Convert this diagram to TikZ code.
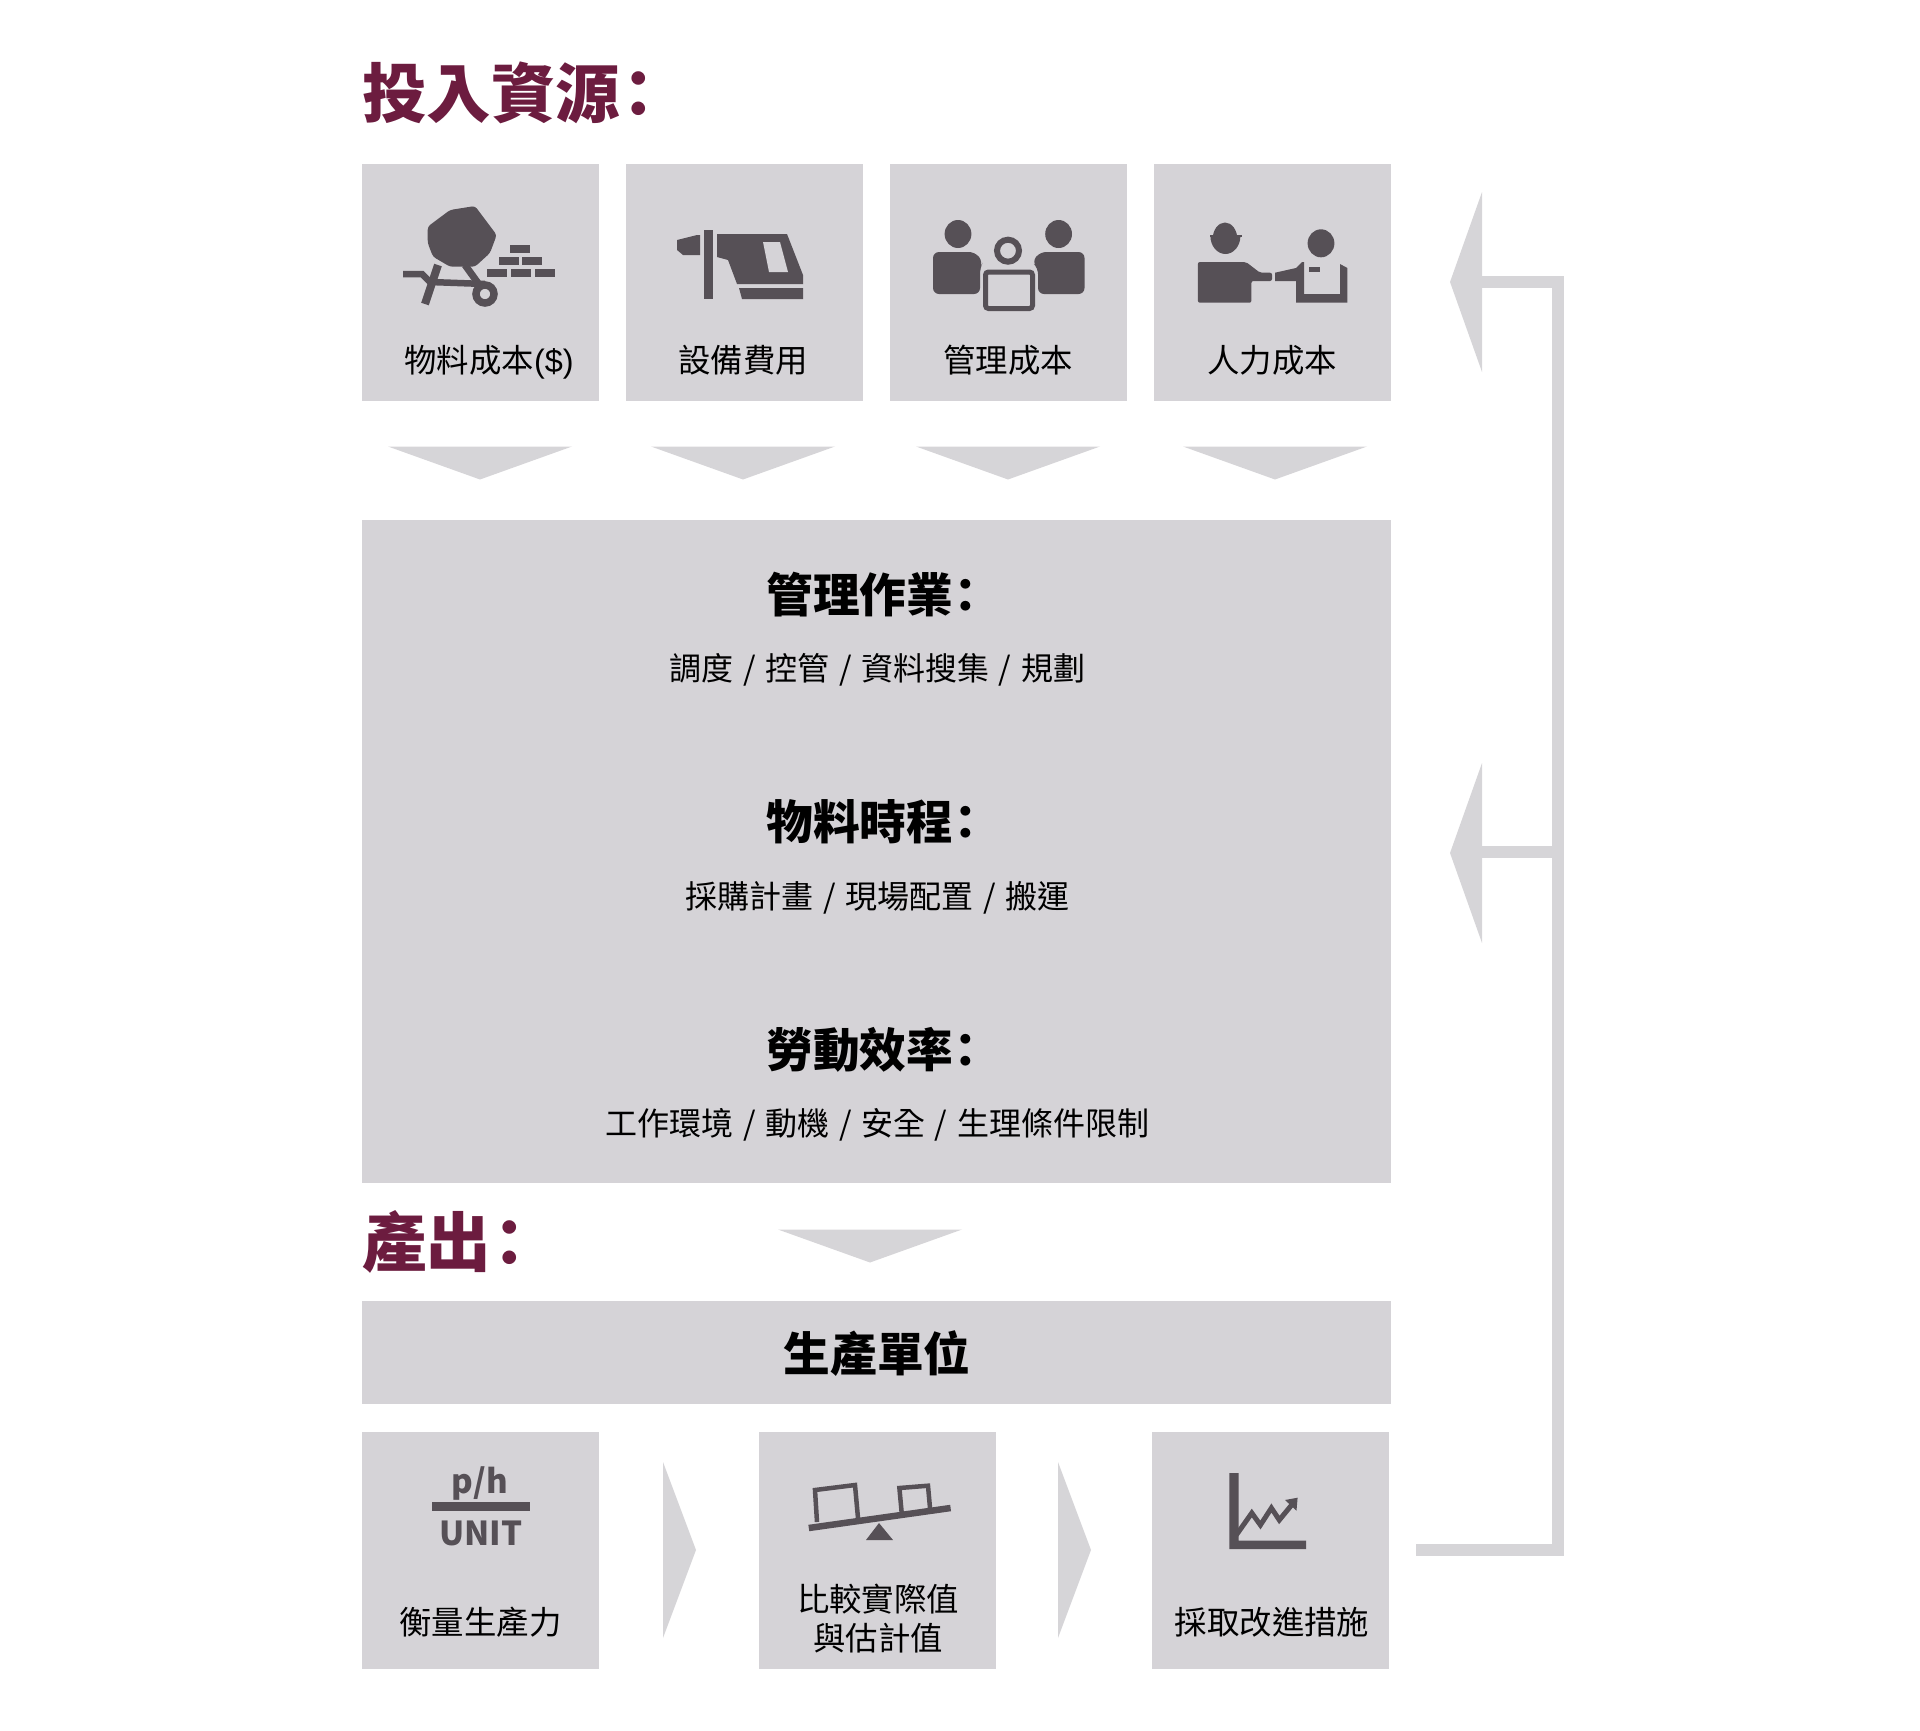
\documentclass[tikz,border=0pt]{standalone}
\usepackage{fontspec}
\setmainfont{Noto Sans CJK TC}
\newfontfamily\latinfont{Liberation Sans}
\usepackage{tikz}
\definecolor{cardgray}{HTML}{D5D3D7}
\definecolor{arrowgray}{HTML}{D6D5D8}
\definecolor{icondark}{HTML}{565056}
\definecolor{headred}{HTML}{6C1C3F}
\newcommand{\sepp}{\hspace{.3em}/\hspace{.3em}}
\newcommand{\clnh}{\hspace{-.22em}：}
\tikzset{
  cardbox/.style={fill=cardgray, inner sep=0pt, minimum width=237pt, minimum height=237pt},
  widebox/.style={fill=cardgray, inner sep=0pt, minimum width=1029pt},
  arrowfill/.style={fill=arrowgray},
  feedback/.style={draw=arrowgray, line width=12pt},
  iconfill/.style={fill=icondark},
  iconline/.style={draw=icondark},
  cardlabel/.style={inner sep=0pt, font=\fontsize{32.4}{39}\selectfont, align=center},
  sublabel/.style={inner sep=0pt, font=\fontsize{32}{39}\selectfont},
  sectionlabel/.style={inner sep=0pt, font=\fontsize{46.7}{55}\selectfont\bfseries},
  headlabel/.style={inner sep=0pt, anchor=west, text=headred, font=\fontsize{64.5}{76}\selectfont\bfseries},
  ratiolabel/.style={inner sep=0pt, text=icondark, font=\fontsize{33}{33}\selectfont\bfseries},
}
\begin{document}
\begin{tikzpicture}[x=1pt, y=-1pt]
\useasboundingbox (0,0) rectangle (1920,1730);
\node[headlabel] (headin) at (362,92.5) {投入資源\clnh};
\node[headlabel] (headout) at (362,1242) {產出\clnh};
\node[cardbox] (matl) at (480.5,282) {};
\node[cardbox] (equip) at (744.5,282) {};
\node[cardbox] (mgmt) at (1008.5,282) {};
\node[cardbox] (labor) at (1272.5,282) {};
\node[widebox, minimum height=663pt] (tasks) at (876.5,851.5) {};
\node[widebox, minimum height=103pt] (unit) at (876.5,1352.5) {};
\node[cardbox] (measure) at (480.5,1550) {};
\node[cardbox] (compare) at (877.5,1550) {};
\node[cardbox] (improve) at (1270,1550) {};
\draw
    (489,362) node[cardlabel] (matltext) {物料成本{\latinfont(\$)}}
    (743,360) node[cardlabel] (equiptext) {設備費用}
    (1008,360) node[cardlabel] (mgmttext) {管理成本}
    (1272,360) node[cardlabel] (labortext) {人力成本}
    (878,595) node[sectionlabel] (tasktext) {管理作業\clnh}
    (877.5,669.5) node[sublabel] (tasksub) {調度\sepp 控管\sepp 資料搜集\sepp 規劃}
    (878,822) node[sectionlabel] (schedtext) {物料時程\clnh}
    (877.5,897.5) node[sublabel] (schedsub) {採購計畫\sepp 現場配置\sepp 搬運}
    (878,1050) node[sectionlabel] (efftext) {勞動效率\clnh}
    (877.5,1124.5) node[sublabel] (effsub) {工作環境\sepp 動機\sepp 安全\sepp 生理條件限制}
    (877,1354) node[sectionlabel] (unittext) {生產單位}
    (480.5,1622) node[cardlabel] (measuretext) {衡量生產力}
    (878,1618.5) node[cardlabel] (comparetext) {比較實際值\\與估計值}
    (1272,1622) node[cardlabel] (improvetext) {採取改進措施}
    ;
\foreach \ax/\ay in {480/446.5, 743/446.5, 1008/446.5, 1275/446.5, 870/1229.5}
    \fill[arrowfill] (\ax-92,\ay) -- (\ax+92,\ay) -- (\ax,\ay+33) -- cycle;
\foreach \ax in {663, 1058}
    \fill[arrowfill] (\ax,1462) -- (\ax+33,1550) -- (\ax,1638) -- cycle;
\foreach \ay in {282, 853}
    \fill[arrowfill] (1482,\ay-90) -- (1450,\ay) -- (1482,\ay+90) -- cycle;
\coordinate (fbstart) at (1416,1550);
\coordinate (fbcorner) at (1557.5,1550);
\coordinate (fbtop) at (1482,282);
\coordinate (fbmid) at (1482,852);
\draw[feedback] (fbstart) -- (fbcorner) |- (fbtop);
\draw[feedback] (fbcorner|-fbmid) -- (fbmid);
% mixer
\fill[iconfill, rounded corners=3pt] (427.7,226.7)--(450,210)--(475,206)--(496.7,235)--(490,253)--(475,266.7)--(450,266.7)--(433,256.7)--(427.7,243)--cycle;
\draw[iconline, line width=6.5pt] (403,274)--(422,274)--(430,282)--(485,284);
\draw[iconline, line width=8pt] (438,265)--(425,304);
\draw[iconline, line width=7pt] (465,265)--(483,290);
\filldraw[iconline, fill=cardgray, line width=7.5pt] (485,294) circle (9);
\foreach \bx/\by in {520/248.7, 508.7/261, 532/261, 497/273.3, 521/273.3, 544.7/273.3}
    \fill[iconfill] (\bx-10,\by-4) rectangle (\bx+10,\by+4);
% drill
\fill[iconfill] (677,240)--(697,235)--(700,235)--(700,255)--(683,255)--(677,250)--cycle;
\fill[iconfill] (704,230) rectangle (713,299);
\fill[iconfill] (717,234)--(787,234)--(803,275)--(803,284)--(737,284)--(728,260)--(717,257)--cycle;
\fill[fill=cardgray] (763,242)--(780,242)--(788,272)--(769,272)--cycle;
\fill[iconfill] (739,288)--(803,288)--(803,299)--(742,299)--cycle;
% people
\foreach \hx in {958, 1058.6}
    \fill[iconfill] (\hx,234) ellipse (13.4 and 14);
\fill[iconfill, rounded corners=6pt] (933,294)--(933,252)--(975,252)--(983,262)--(980,268)--(980,294)--cycle;
\fill[iconfill, rounded corners=6pt] (1038,294)--(1038,268)--(1032,262)--(1040,252)--(1084.5,252)--(1084.5,294)--cycle;
\draw[iconline, line width=6pt] (1008,250.7) ellipse (11 and 11);
\filldraw[iconline, fill=cardgray, line width=5pt, rounded corners=3pt] (985.5,308.5)--(985.5,272)--(1032.5,272)--(1032.5,308.5)--cycle;
% handshake
\fill[iconfill] (1210.4,236) arc[start angle=180, end angle=0, x radius=15, y radius=18]--cycle;
\fill[iconfill] (1209.6,234.5) rectangle (1241.5,237);
\fill[iconfill] (1212.6,239.5)--(1237.4,239.5) arc[start angle=0, end angle=-180, x radius=12.4, y radius=17]--cycle;
\fill[iconfill, rounded corners=2pt] (1197.9,302.7)--(1197.9,262)--(1246,262)--(1260,272.7)--(1272,272.7)--(1272,281)--(1251.4,281)--(1251.4,302.7)--cycle;
\fill[iconfill] (1321,243.3) ellipse (13.4 and 14);
\fill[iconfill] (1275,272.7)--(1296,268)--(1302,262)--(1304,262)--(1304,294)--(1340,294)--(1340,264)--(1347.4,268)--(1347.4,302.7)--(1296,302.7)--(1296,281)--(1275,281)--cycle;
\fill[iconfill] (1309,267) rectangle (1320,272);
% ratio
\node[ratiolabel] (phtext) at (480,1483) {p/h};
\node[ratiolabel] (unitword) at (481,1533) {UNIT};
\fill[iconfill] (431.5,1502) rectangle (530,1510.7);
% balance
\draw[iconline, line width=6.5pt] (808.8,1528)--(950.6,1508);
\fill[iconfill] (879,1523)--(866,1540)--(893,1540)--cycle;
\draw[iconline, line width=4.5pt] (817,1522)--(815,1490)--(855,1485)--(858,1518);
\draw[iconline, line width=4.5pt] (901.6,1512)--(899.4,1488)--(928,1485.7)--(930,1508);
% chart
\fill[iconfill] (1229.4,1473)--(1238.7,1473)--(1238.7,1540.7)--(1306,1540.7)--(1306,1549)--(1229.4,1549)--cycle;
\draw[iconline, line width=5pt] (1236.3,1535)--(1251.8,1513)--(1260.4,1525)--(1271.4,1508)--(1279.3,1520)--(1293,1503.3);
\fill[iconfill] (1297.6,1497.7)--(1285,1500)--(1296.5,1510.7)--cycle;
\end{tikzpicture}
\end{document}
